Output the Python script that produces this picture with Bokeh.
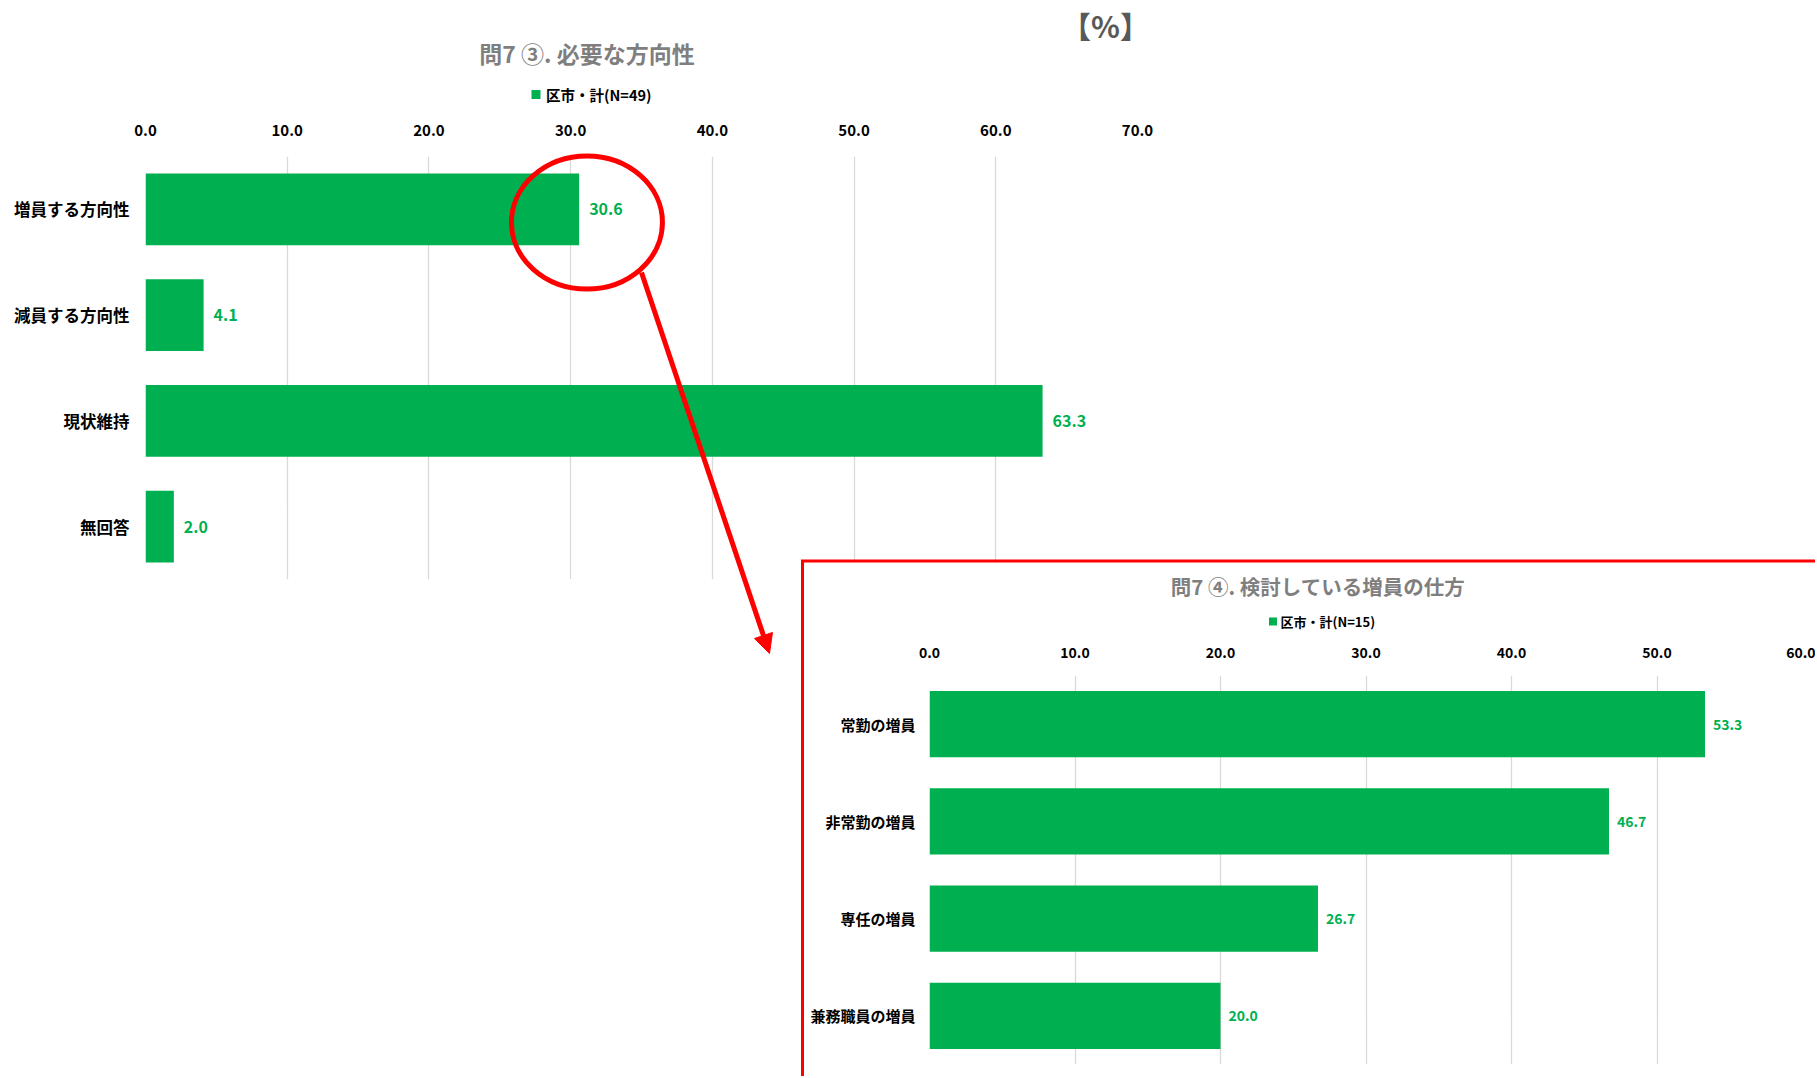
from bokeh.plotting import figure
from bokeh.models import (Range1d, FactorRange, NumeralTickFormatter, Label, Arrow,
                          NormalHead, GridBox)
from bokeh.embed import file_html
from bokeh.resources import INLINE
from bokeh.core.properties import value

# ---------------- data ----------------
unit_text = "【%】"

title1 = "問7 ③. 必要な方向性"
legend1 = "区市・計(N=49)"
cats1 = ["増員する方向性", "減員する方向性", "現状維持", "無回答"]
vals1 = [30.6, 4.1, 63.3, 2.0]
ticks1 = [0, 10, 20, 30, 40, 50, 60, 70]

title2 = "問7 ④. 検討している増員の仕方"
legend2 = "区市・計(N=15)"
cats2 = ["常勤の増員", "非常勤の増員", "専任の増員", "兼務職員の増員"]
vals2 = [53.3, 46.7, 26.7, 20.0]
ticks2 = [0, 10, 20, 30, 40, 50, 60]

# ---------------- style ----------------
JP = "Noto Sans CJK JP"
GREEN = "#00B050"
RED = "#FF0000"
GRID = "#D9D9D9"
W, H = 1815, 1076


def style(p, cat_fs, tick_fs, tick_standoff, cat_standoff, ticks):
    p.outline_line_color = None
    p.background_fill_color = "white"
    p.border_fill_color = "white"
    p.xaxis.ticker = ticks
    p.xaxis.formatter = NumeralTickFormatter(format="0.0")
    p.xaxis.axis_line_color = None
    p.xaxis.major_tick_line_color = None
    p.xaxis.minor_tick_line_color = None
    p.xaxis.major_tick_out = 0
    p.xaxis.minor_tick_out = 0
    p.xaxis.major_label_text_font = JP
    p.xaxis.major_label_text_font_style = "bold"
    p.xaxis.major_label_text_font_size = tick_fs
    p.xaxis.major_label_text_color = "#000000"
    p.xaxis.major_label_standoff = tick_standoff
    p.yaxis.axis_line_color = None
    p.yaxis.major_tick_line_color = None
    p.yaxis.minor_tick_line_color = None
    p.yaxis.major_tick_out = 0
    p.yaxis.minor_tick_out = 0
    p.yaxis.major_label_text_font = JP
    p.yaxis.major_label_text_font_style = "bold"
    p.yaxis.major_label_text_font_size = cat_fs
    p.yaxis.major_label_text_color = "#000000"
    p.yaxis.major_label_standoff = cat_standoff
    p.xgrid.grid_line_color = GRID
    p.xgrid.grid_line_width = 1.3
    p.ygrid.grid_line_color = None


# ---------------- chart 1 ----------------
F1_LEFT, F1_TOP, F1_W, F1_H = 145, 156, 992, 423
p1 = figure(width=W, height=H,
            x_range=Range1d(0, 70),
            y_range=FactorRange(factors=cats1[::-1]),
            x_axis_location="above",
            output_backend="svg", toolbar_location=None,
            min_border_left=F1_LEFT, min_border_right=W - F1_LEFT - F1_W,
            min_border_top=F1_TOP, min_border_bottom=H - F1_TOP - F1_H)
p1.frame_align = False
style(p1, "16.5px", "15px", 21, 16, ticks1)

p1.hbar(y=cats1, left=0, right=vals1, height=0.68,
        fill_color=GREEN, line_color=None)
p1.text(x=vals1, y=cats1, text=[f"{v:.1f}" for v in vals1],
        x_offset=10, text_align="left", text_baseline="middle",
        text_color=GREEN, text_font=value(JP), text_font_style="bold",
        text_font_size="16px")

# ---------------- chart 2 ----------------
P2_X, P2_Y = 803, 562
F2_LEFT, F2_TOP, F2_W, F2_H = 929, 675, 873, 389
p2w, p2h = W - P2_X, H - P2_Y
p2 = figure(width=p2w, height=p2h,
            x_range=Range1d(0, 60),
            y_range=FactorRange(factors=cats2[::-1]),
            x_axis_location="above",
            output_backend="svg", toolbar_location=None,
            min_border_left=F2_LEFT - P2_X,
            min_border_right=p2w - (F2_LEFT - P2_X) - F2_W,
            min_border_top=F2_TOP - P2_Y,
            min_border_bottom=p2h - (F2_TOP - P2_Y) - F2_H)
p2.frame_align = False
style(p2, "15px", "14px", 18, 14, ticks2)
p2.margin = (P2_Y, 0, 0, P2_X)

p2.hbar(y=cats2, left=0, right=vals2, height=0.68,
        fill_color=GREEN, line_color=None)
p2.text(x=vals2, y=cats2, text=[f"{v:.1f}" for v in vals2],
        x_offset=8, text_align="left", text_baseline="middle",
        text_color=GREEN, text_font=value(JP), text_font_style="bold",
        text_font_size="14px")

# ---------------- overlay (titles, legends, callout) ----------------
# overlay uses chart 1's data coordinates, extended over the whole page
sx = F1_W / 70.0
sy = F1_H / 4.0


def dx(px):
    return (px - F1_LEFT) / sx


def dy(py):
    return 4 - (py - F1_TOP) / sy


ov = figure(width=W, height=H,
            x_range=Range1d(dx(0), dx(W)), y_range=Range1d(dy(H), dy(0)),
            x_axis_location=None, y_axis_location=None,
            output_backend="svg", toolbar_location=None,
            min_border=0, min_border_left=0, min_border_right=0,
            min_border_top=0, min_border_bottom=0)
ov.frame_align = False
ov.background_fill_color = None
ov.border_fill_color = None
ov.outline_line_color = None
ov.xgrid.visible = False
ov.ygrid.visible = False


def add_text(x, y, text, size, color, align="center", bold=True):
    ov.add_layout(Label(x=dx(x), y=dy(y), text=text, text_align=align,
                        text_baseline="middle", text_font=JP,
                        text_font_style="bold" if bold else "normal",
                        text_font_size=size, text_color=color))


# page unit
add_text(1105, 24, unit_text, "30px", "#595959")
# chart 1 title + legend
add_text(586.5, 52, title1, "23px", "#7F7F7F")
ov.scatter(x=[dx(535.5)], y=[dy(94)], marker="square", size=9,
           fill_color=GREEN, line_color=None)
add_text(545.5, 94, legend1, "14.5px", "#000000", align="left")
# chart 2 title + legend
add_text(1317.5, 585, title2, "20.5px", "#7F7F7F")
ov.scatter(x=[dx(1272.5)], y=[dy(621)], marker="square", size=8,
           fill_color=GREEN, line_color=None)
add_text(1280, 621, legend2, "13px", "#000000", align="left")

# red frame around chart 2 (left & top edges)
ov.line(x=[dx(802), dx(802), dx(W + 20)], y=[dy(H + 20), dy(560.5), dy(560.5)],
        line_color=RED, line_width=3, line_join="miter")

# red ellipse around the end of the first bar, arrow to chart 2
circle_x = vals1[0] + 0.55
circle_y = 3.5 - 0.124
ov.ellipse(x=[circle_x], y=[circle_y], width=151, height=133,
           width_units="screen", height_units="screen",
           fill_color=None, line_color=RED, line_width=5)
ov.add_layout(Arrow(x_start=dx(641), y_start=dy(272), x_end=dx(769), y_end=dy(653),
                    line_color=RED, line_width=5,
                    end=NormalHead(size=19, fill_color=RED, line_color=RED,
                                   line_width=1)))

layout = GridBox(children=[(p1, 0, 0), (p2, 0, 0), (ov, 0, 0)])
open("out.html", "w").write(file_html(layout, INLINE))
